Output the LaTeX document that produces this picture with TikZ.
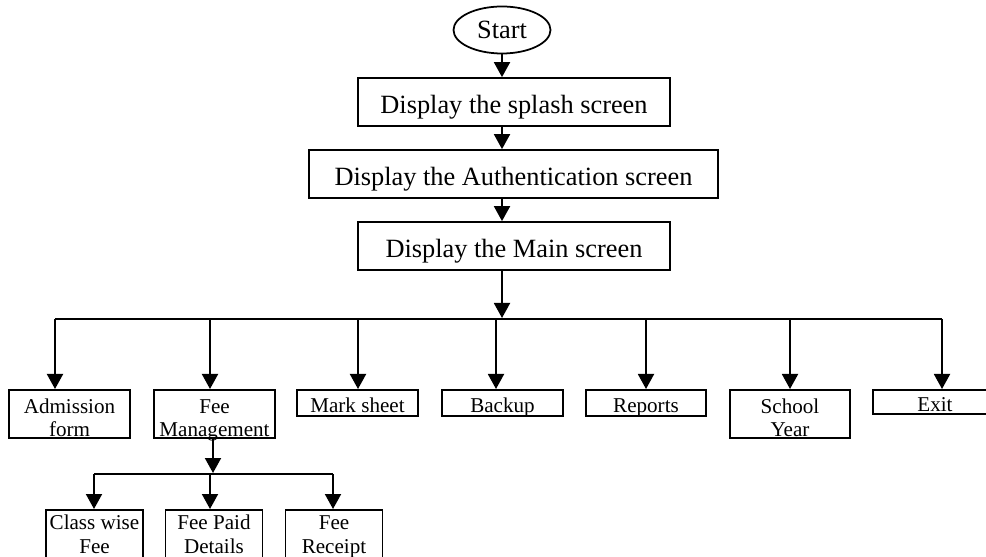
\documentclass[tikz,border=0pt]{standalone}
\usepackage{fontspec}
\setmainfont{Liberation Serif}
\usepackage{tikz}
\usetikzlibrary{shapes.geometric,arrows.meta}
\definecolor{ink}{HTML}{000000}
\tikzset{
  flow/.style={draw=ink, line width=1.1pt},
  arr/.style={flow, -{Triangle[width=3.2mm,length=3mm]}},
  term/.style={ellipse, draw=ink, line width=1pt, minimum width=19.4mm, minimum height=9.4mm, inner sep=0pt, font=\fontsize{15}{17}\selectfont},
  big/.style={draw=ink, line width=1pt, minimum width=62.4mm, minimum height=9.6mm, inner sep=0pt, text height=13.5pt, text depth=0pt, font=\fontsize{15}{17}\selectfont},
  small/.style={draw=ink, line width=1pt, anchor=north, minimum width=24.2mm, minimum height=5.2mm, inner sep=0pt, align=center, text height=10.8pt, text depth=0pt, font=\fontsize{12}{13.1}\selectfont},
  tall/.style={small, minimum height=9.6mm, text height=25.2pt},
  sub/.style={tall, minimum width=19.4mm, minimum height=10.4mm, text height=19.5pt},
}
\begin{document}
\begin{tikzpicture}[x=0.2mm, y=-0.2mm]
  \useasboundingbox (0,0) rectangle (986,557);
  \clip (0,0) rectangle (986,557);

  % top chain
  \node[term] (start) at (502,30) {Start};
  \node[big] (splash) at (514,102) {Display the splash screen};
  \node[big, minimum width=81.8mm] (auth) at (513.5,174) {Display the Authentication screen};
  \node[big] (main) at (514,246) {Display the Main screen};

  \draw[arr] (start.south) -- (start.south |- splash.north);
  \draw[arr] (start.south |- splash.south) -- (start.south |- auth.north);
  \draw[arr] (start.south |- auth.south) -- (start.south |- main.north);

  % menu row
  \node[tall] (adm) at (69.5,389) {Admission\\form};
  \node[tall] (fee) at (214.5,389) {Fee\\Management};
  \node[small] (mark) at (357.5,389) {Mark sheet};
  \node[small] (back) at (502.5,389) {Backup};
  \node[small, minimum width=24mm] (rep) at (646,389) {Reports};
  \node[tall, minimum width=24mm] (sch) at (790,389) {School\\Year};
  \node[small, minimum width=24.8mm, minimum height=4.8mm] (exit) at (935,389) {Exit};

  \coordinate (hub) at (502,318);
  \draw[arr] (hub |- main.south) -- (hub);
  \coordinate (busL) at (55,319);
  \coordinate (busR) at (942,319);
  \draw[flow] (busL) -- (busR);
  \foreach \n/\x in {adm/55,fee/210,mark/358,back/496,rep/646,sch/790,exit/942}{
    \coordinate (d\n) at (\x,319);
    \draw[arr] (d\n) -- (d\n |- \n.north);
  }

  % fee sub menu
  \node[sub] (cls) at (94.5,509) {Class wise\\Fee};
  \node[sub] (paid) at (214,509) {Fee Paid\\Details};
  \node[sub] (rcpt) at (334,509) {Fee\\Receipt};

  \coordinate (fhub) at (213,473);
  \draw[arr] (fhub |- fee.south) -- (fhub);
  \coordinate (subL) at (94,474);
  \coordinate (subR) at (333,474);
  \draw[flow] (subL) -- (subR);
  \foreach \n/\x in {cls/94,paid/210,rcpt/333}{
    \coordinate (s\n) at (\x,474);
    \draw[arr] (s\n) -- (s\n |- \n.north);
  }
\end{tikzpicture}
\end{document}
